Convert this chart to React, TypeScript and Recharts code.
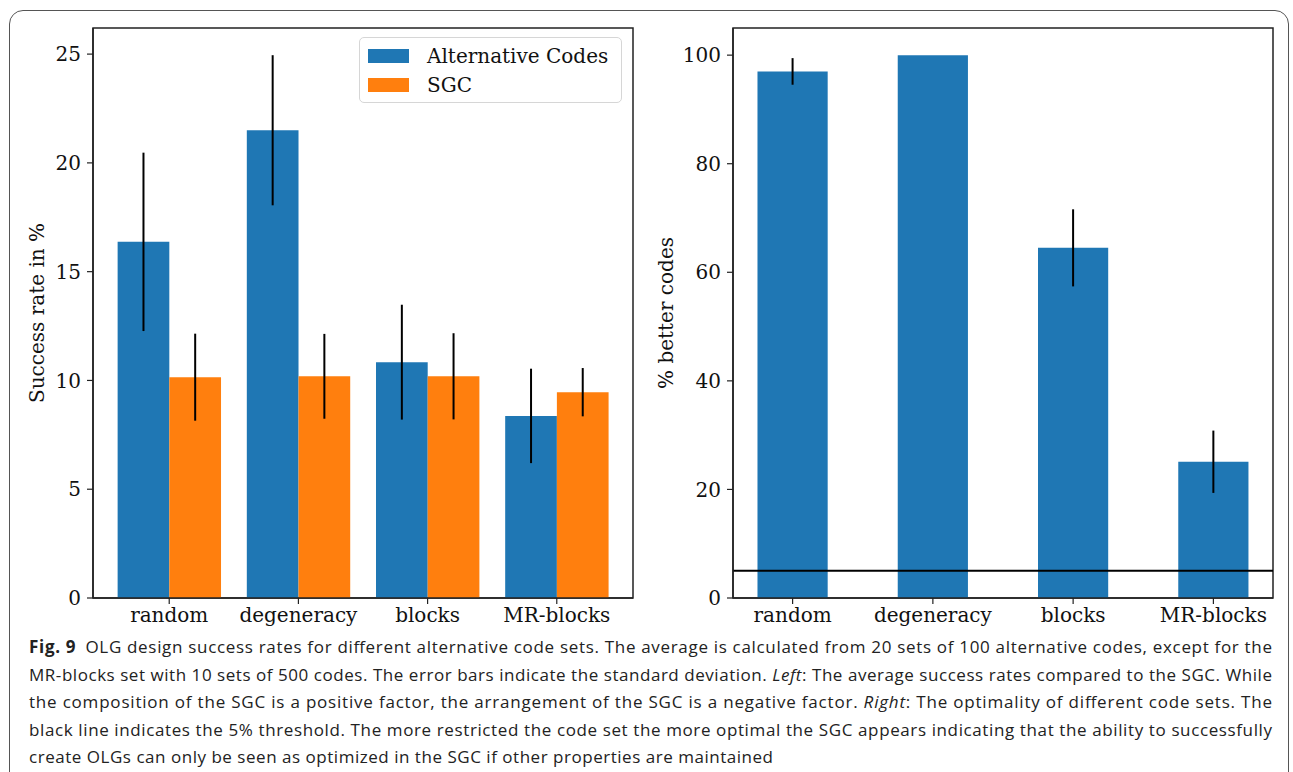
import React from 'react';
import { BarChart, Bar, XAxis, YAxis, ErrorBar, ReferenceLine, ReferenceArea, Legend } from 'recharts';

const categories = ['random', 'degeneracy', 'blocks', 'MR-blocks'];
const altMean = [16.37, 21.5, 10.84, 8.37];
const altStd = [4.1, 3.45, 2.64, 2.17];
const sgcMean = [10.15, 10.19, 10.19, 9.46];
const sgcStd = [2.0, 1.95, 1.98, 1.11];
const betterMean = [97.0, 100, 64.5, 25.1];
const betterStd = [2.45, 0, 7.1, 5.74];
const leftTicks = [0, 5, 10, 15, 20, 25];
const rightTicks = [0, 20, 40, 60, 80, 100];
const threshold = 5;

const leftData = categories.map((c, i) => ({
  pos: i,
  name: c,
  alt: altMean[i],
  altErr: altStd[i],
  sgc: sgcMean[i],
  sgcErr: sgcStd[i],
}));
const rightData = categories.map((c, i) => ({
  pos: i,
  name: c,
  better: betterMean[i],
  betterErr: betterStd[i],
}));

const LEFT_X: [number, number] = [-0.59, 3.59];
const LEFT_Y: [number, number] = [0, 26.2];
const RIGHT_X: [number, number] = [-0.425, 3.425];
const RIGHT_Y: [number, number] = [0, 105];

const FONT = "'DejaVu Serif', serif";
const BLUE = '#1f77b4';
const ORANGE = '#ff7f0e';
const FRAME = '#222';
const tickStyle = { fill: '#111', fontSize: 20, fontFamily: FONT };

const yTitle = (text: string, cx: number) => (props: any) => {
  const vb = props.viewBox || { x: 0, y: 0, height: 0 };
  const cy = vb.y + vb.height / 2;
  return (
    <text
      x={cx}
      y={cy}
      transform={`rotate(-90 ${cx} ${cy})`}
      textAnchor="middle"
      dominantBaseline="central"
      fill="#111"
      fontSize={20}
      fontFamily={FONT}
    >
      {text}
    </text>
  );
};

const renderLegend = (props: any) => {
  const payload = props.payload || [];
  return (
    <div
      style={{
        width: 263,
        height: 66,
        boxSizing: 'border-box',
        border: '1.5px solid #d6d6d6',
        borderRadius: 5,
        background: 'rgba(255,255,255,0.8)',
        position: 'relative',
        fontFamily: FONT,
        fontSize: 20,
        color: '#111',
      }}
    >
      {payload.map((p: any, i: number) => (
        <div key={i} style={{ position: 'absolute', left: 0, top: 18 + i * 28.5 - 12, height: 24, width: '100%' }}>
          <div style={{ position: 'absolute', left: 8, top: 5, width: 41, height: 14, background: p.color }} />
          <div style={{ position: 'absolute', left: 67, top: 0, lineHeight: '24px', whiteSpace: 'nowrap' }}>{p.value}</div>
        </div>
      ))}
    </div>
  );
};

const fmt = (v: number) => categories[v] ?? '';

function LeftChart() {
  return (
    <BarChart
      width={640}
      height={640}
      data={leftData}
      margin={{ top: 28, right: 7, bottom: 0, left: 0 }}
      barGap={0}
    >
      <XAxis
        dataKey="pos"
        type="number"
        domain={LEFT_X}
        ticks={[0, 1, 2, 3]}
        interval={0}
        tickFormatter={fmt}
        height={42}
        tick={tickStyle}
        tickSize={6}
        tickMargin={4}
        axisLine={{ stroke: FRAME, strokeWidth: 1.5 }}
        tickLine={{ stroke: FRAME, strokeWidth: 1.2 }}
      />
      <YAxis
        domain={LEFT_Y}
        ticks={leftTicks}
        width={93}
        tick={tickStyle}
        tickSize={6}
        tickMargin={6}
        axisLine={{ stroke: FRAME, strokeWidth: 1.5 }}
        tickLine={{ stroke: FRAME, strokeWidth: 1.2 }}
        label={yTitle('Success rate in %', 37)}
      />
      <Legend layout="vertical" align="center" verticalAlign="middle" content={renderLegend} wrapperStyle={{ left: 359, top: 37, width: 263, height: 66 }} />
      <Bar dataKey="alt" name="Alternative Codes" fill={BLUE} barSize={51.7} isAnimationActive={false}>
        <ErrorBar dataKey="altErr" width={0} stroke="#000" strokeWidth={2} direction="y" />
      </Bar>
      <Bar dataKey="sgc" name="SGC" fill={ORANGE} barSize={51.7} isAnimationActive={false}>
        <ErrorBar dataKey="sgcErr" width={0} stroke="#000" strokeWidth={2} direction="y" />
      </Bar>
      <ReferenceArea x1={LEFT_X[0]} x2={LEFT_X[1]} y1={LEFT_Y[0]} y2={LEFT_Y[1]} fill="none" fillOpacity={0} stroke={FRAME} strokeWidth={1.5} ifOverflow="visible" />
    </BarChart>
  );
}

function RightChart() {
  return (
    <BarChart
      width={653}
      height={640}
      data={rightData}
      margin={{ top: 28, right: 20, bottom: 0, left: 0 }}
    >
      <XAxis
        dataKey="pos"
        type="number"
        domain={RIGHT_X}
        ticks={[0, 1, 2, 3]}
        interval={0}
        tickFormatter={fmt}
        height={42}
        tick={tickStyle}
        tickSize={6}
        tickMargin={4}
        axisLine={{ stroke: FRAME, strokeWidth: 1.5 }}
        tickLine={{ stroke: FRAME, strokeWidth: 1.2 }}
      />
      <YAxis
        domain={RIGHT_Y}
        ticks={rightTicks}
        width={93}
        tick={tickStyle}
        tickSize={6}
        tickMargin={6}
        axisLine={{ stroke: FRAME, strokeWidth: 1.5 }}
        tickLine={{ stroke: FRAME, strokeWidth: 1.2 }}
        label={yTitle('% better codes', 26)}
      />
      <Bar dataKey="better" name="% better codes" fill={BLUE} barSize={70.2} isAnimationActive={false}>
        <ErrorBar dataKey="betterErr" width={0} stroke="#000" strokeWidth={2} direction="y" />
      </Bar>
      <ReferenceLine y={threshold} stroke="#000" strokeWidth={2} />
      <ReferenceArea x1={RIGHT_X[0]} x2={RIGHT_X[1]} y1={RIGHT_Y[0]} y2={RIGHT_Y[1]} fill="none" fillOpacity={0} stroke={FRAME} strokeWidth={1.5} ifOverflow="visible" />
    </BarChart>
  );
}

const captionLines: { node: React.ReactNode; width: number }[] = [
  {
    node: (
      <>
        <tspan fontWeight="bold">Fig. 9</tspan>
        <tspan>{'\u2002'}OLG design success rates for different alternative code sets. The average is calculated from 20 sets of 100 alternative codes, except for the</tspan>
      </>
    ),
    width: 1243,
  },
  {
    node: (
      <>
        <tspan>MR-blocks set with 10 sets of 500 codes. The error bars indicate the standard deviation. </tspan>
        <tspan fontStyle="italic">Left</tspan>
        <tspan>: The average success rates compared to the SGC. While</tspan>
      </>
    ),
    width: 1243,
  },
  {
    node: (
      <>
        <tspan>the composition of the SGC is a positive factor, the arrangement of the SGC is a negative factor. </tspan>
        <tspan fontStyle="italic">Right</tspan>
        <tspan>: The optimality of different code sets. The</tspan>
      </>
    ),
    width: 1243,
  },
  {
    node: <tspan>black line indicates the 5% threshold. The more restricted the code set the more optimal the SGC appears indicating that the ability to successfully</tspan>,
    width: 1243,
  },
  {
    node: <tspan>create OLGs can only be seen as optimized in the SGC if other properties are maintained</tspan>,
    width: 744,
  },
];

export default function App() {
  return (
    <div style={{ position: 'absolute', left: 0, top: 0, width: 1293, height: 772, background: '#fff', overflow: 'hidden' }}>
      <div
        style={{
          position: 'absolute',
          left: 9,
          top: 10,
          width: 1280,
          height: 780,
          boxSizing: 'border-box',
          border: '1.5px solid #555',
          borderRadius: 14,
        }}
      />
      <div style={{ position: 'absolute', left: 0, top: 0 }}>
        <LeftChart />
      </div>
      <div style={{ position: 'absolute', left: 640, top: 0 }}>
        <RightChart />
      </div>
      <svg style={{ position: 'absolute', left: 0, top: 0 }} width={1293} height={772}>
        {captionLines.map((line, i) => (
          <text
            key={i}
            x={29}
            y={647 + i * 27.5 + 6}
            fontFamily="'Open Sans', sans-serif"
            fontSize={17}
            fill="#222"
            textLength={line.width}
            lengthAdjust="spacing"
          >
            {line.node}
          </text>
        ))}
      </svg>
    </div>
  );
}
